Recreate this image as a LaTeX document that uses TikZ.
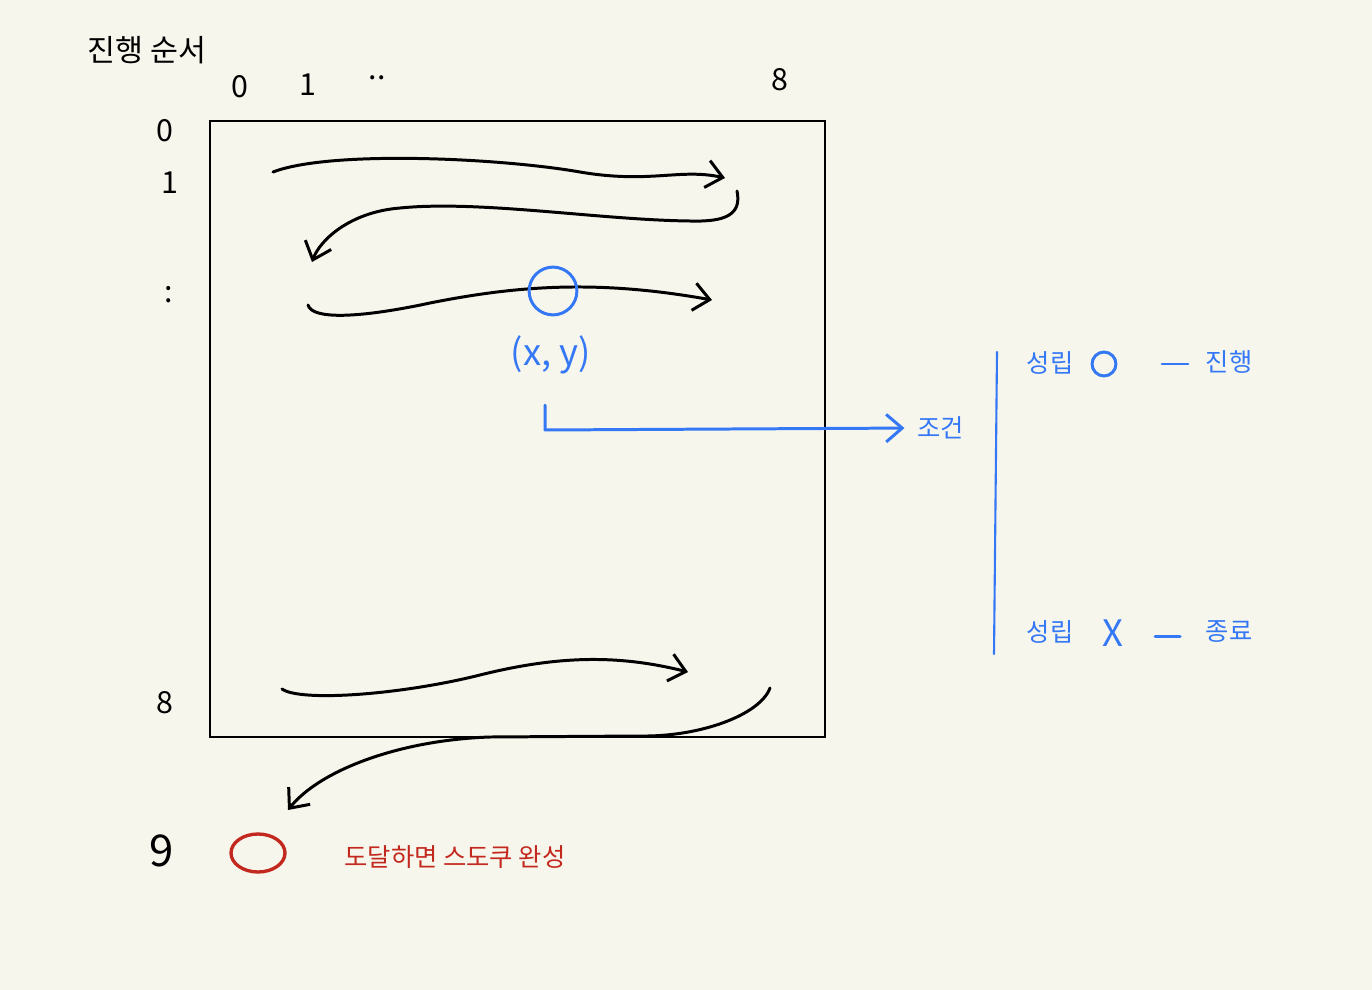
\documentclass[tikz,border=0pt]{standalone}
\usepackage{fontspec}
\setmainfont{Noto Sans CJK KR}
\usepackage{xcolor}
\usetikzlibrary{arrows.meta, positioning}

\definecolor{paper}{HTML}{F7F6EC}
\definecolor{penblue}{HTML}{3478F6}
\definecolor{penred}{HTML}{C3281E}

\begin{document}
\begin{tikzpicture}[
    x=0.02cm, y=-0.02cm,
    ink/.style={line width=1.7pt, line cap=round, line join=round},
    arr/.style={ink, -{Straight Barb[length=3.2mm, width=5.5mm]}},
    idx/.style={font=\LARGE, inner sep=1pt},
    bluetxt/.style={text=penblue, font=\Large, inner sep=1pt},
    redtxt/.style={text=penred, font=\Large, inner sep=1pt}
]
\fill[paper] (0,0) rectangle (1372,990);

% title and board
\node[font=\LARGE, inner sep=1pt] (title) at (147,50) {진행 순서};
\draw[line width=0.85pt] (210,121) rectangle (825,737);

% column / row indices
\node[idx] (c0) at (240,87) {0};
\node[idx] (c1) at (308,85) {1};
\node[idx] (cdots) at (377,78) {..};
\node[idx] (c8) at (780,80) {8};
\node[idx] (r0) at (165,131) {0};
\node[idx] (r1) at (170,183) {1};
\node[idx] (rdots) at (169,295) {:};
\node[idx] (r8) at (165,703) {8};
\node[idx, font=\Huge] (r9) at (162,851) {9};

% snake path
\coordinate (a1) at (273,172);
\coordinate (b1) at (725,178);
\coordinate (a2) at (737,191);
\coordinate (b2) at (312,262);
\coordinate (a3) at (308,305);
\coordinate (b3) at (712,300);
\coordinate (a4) at (282,689);
\coordinate (b4) at (688,672);
\coordinate (a5) at (770,688);
\coordinate (b5) at (288,810);

\draw[arr] (a1) .. controls (330,150) and (500,158) .. (580,172)
    .. controls (650,184) and (680,168) .. (b1);
\draw[arr] (a2) .. controls (742,215) and (725,222) .. (690,221)
    .. controls (600,220) and (480,200) .. (400,208)
    .. controls (350,212) and (320,240) .. (b2);
\draw[arr] (a3) .. controls (312,320) and (360,318) .. (430,303)
    .. controls (520,285) and (600,280) .. (b3);
\draw[arr] (a4) .. controls (300,702) and (400,695) .. (480,675)
    .. controls (560,655) and (620,655) .. (b4);
\draw[arr] (a5) .. controls (760,715) and (700,737) .. (640,736)
    -- (490,737) .. controls (400,740) and (320,770) .. (b5);

% current cell and condition
\node[draw=penblue, circle, line width=1.7pt, minimum size=48pt*0.567, inner sep=0pt] (cell) at (553,291) {};
\node[bluetxt, font=\huge] (xy) at (551,355) {(x, y)};
\coordinate (tick) at (545,405);
\node[bluetxt, anchor=west] (cond) at (915,428) {조건};
\draw[ink, draw=penblue, shorten >=6pt, -{Straight Barb[length=3.2mm, width=5.5mm]}] (tick) -- (545,430) -- (cond.west);

% branches
\coordinate (btop) at (997,352);
\coordinate (bbot) at (994,654);
\draw[ink, draw=penblue, line width=1.2pt] (btop) -- (bbot);
\node[bluetxt] (ok) at (1050,363) {성립};
\node[draw=penblue, circle, line width=1.7pt, minimum size=24pt*0.567, inner sep=0pt] (okmark) at (1104,364) {};
\node[bluetxt] (go) at (1229,362) {진행};
\draw[ink, draw=penblue] (1162,364) -- (1188,364);
\node[bluetxt] (no) at (1050,632) {성립};
\node[bluetxt, font=\huge] (nomark) at (1113,633) {X};
\node[bluetxt] (stop) at (1229,632) {종료};
\draw[ink, draw=penblue] (1155,636) -- (1180,636);

% goal
\draw[penred, line width=1.9pt] (258,853) ellipse (27 and 19);
\node[redtxt] (done) at (455,857) {도달하면 스도쿠 완성};

\end{tikzpicture}
\end{document}
